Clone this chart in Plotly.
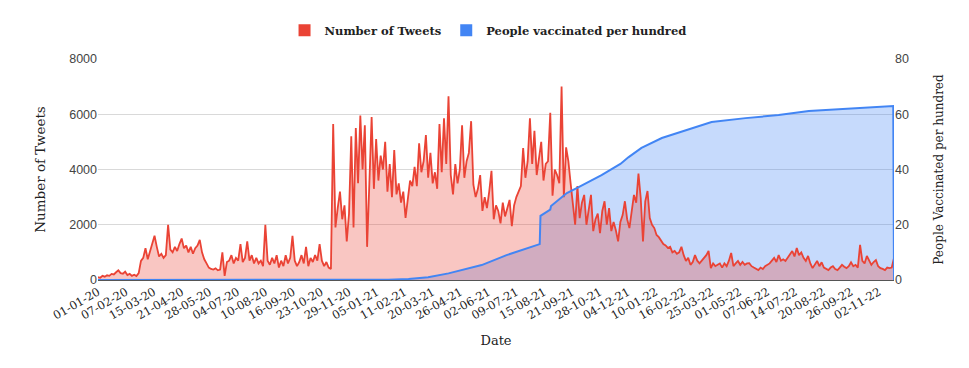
"""Tweets per day vs. people vaccinated per hundred (dual-axis area chart)."""

import pandas as pd
import plotly.graph_objects as go

# Number of tweets, one value every 3 days starting 01-01-2020
tweets = [
    100, 80, 150, 120, 170, 150, 220, 200, 280, 350, 250, 230, 300, 180, 220, 150, 190, 140, 250, 690,
    800, 1150, 750, 1050, 1300, 1600, 1200, 850, 950, 800, 900, 2000, 1100, 1000, 1200, 1050, 1300, 1500, 1150, 1250,
    1000, 1200, 950, 1150, 1250, 1450, 1000, 750, 600, 450, 400, 380, 420, 350, 380, 1000, 150, 650, 700, 900,
    600, 800, 700, 1300, 650, 800, 1400, 700, 900, 600, 800, 600, 700, 500, 2000, 700, 550, 800, 600, 900,
    450, 700, 500, 900, 600, 800, 1600, 700, 500, 650, 900, 600, 1200, 500, 800, 650, 900, 700, 1300, 700,
    500, 650, 450, 400, 5650, 1900, 2600, 3200, 2200, 2700, 1400, 2400, 5200, 1900, 5500, 3500, 5950, 4000, 5600, 1200,
    3500, 5900, 3300, 5100, 3600, 4500, 4000, 5000, 3200, 4200, 3000, 4700, 3100, 3500, 2800, 3200, 2250, 3000, 3600, 3400,
    4100, 3400, 4950, 3900, 4300, 5250, 3700, 4600, 3500, 3900, 3300, 5650, 3900, 5850, 4200, 6650, 3800, 3100, 4200, 3500,
    4000, 5600, 3700, 4300, 4600, 5750, 3450, 3000, 3300, 3800, 2500, 3000, 2600, 3200, 3950, 2200, 2700, 2500, 2050, 2800,
    2300, 2600, 2900, 1950, 2700, 3000, 3200, 3400, 4780, 3700, 4300, 5850, 4200, 5400, 3800, 4400, 5000, 3600, 4200, 4300,
    6050, 3050, 4000, 3800, 3500, 7000, 3000, 4800, 4300, 3500, 2800, 2000, 3400, 2240, 2800, 3080, 2000, 2600, 3080, 1770,
    2200, 2400, 1700, 2500, 2850, 2000, 2600, 1770, 2100, 1800, 1400, 2100, 2350, 2850, 2200, 1880, 2600, 3080, 2800, 3850,
    2970, 1400, 2850, 3220, 2240, 2000, 1880, 1630, 1550, 1400, 1300, 1250, 1160, 1200, 1000, 1050, 950, 1000, 1200, 900,
    690, 800, 550, 650, 900, 700, 600, 700, 800, 900, 1050, 430, 600, 500, 550, 600, 450, 600, 500, 700,
    980, 500, 600, 690, 550, 650, 550, 600, 610, 500, 450, 400, 360, 450, 400, 500, 550, 600, 700, 800,
    650, 900, 700, 750, 690, 800, 900, 1050, 850, 1160, 900, 1000, 800, 690, 870, 600, 430, 550, 690, 500,
    640, 450, 400, 360, 450, 500, 400, 360, 450, 550, 480, 430, 500, 640, 500, 550, 450, 1270, 690, 600,
    870, 700, 550, 650, 720, 500, 430, 400, 360, 450, 430, 450, 800,
]
tweet_dates = pd.date_range("2020-01-01", periods=len(tweets), freq="3D")

# People vaccinated per hundred
vacc_dates = [
    "2020-01-01", "2020-12-14", "2021-01-20", "2021-02-16", "2021-03-14", "2021-04-10", "2021-05-24",
    "2021-06-26", "2021-08-09", "2021-08-10", "2021-08-23", "2021-08-24", "2021-09-14", "2021-09-29",
    "2021-10-30", "2021-11-24", "2021-12-05", "2021-12-22", "2022-01-18", "2022-02-20", "2022-03-25",
    "2022-05-09", "2022-06-22", "2022-08-01", "2022-11-21", "2022-11-22",
]
vacc = [
    0, 0, 0.1, 0.4, 1.0, 2.4, 5.4,
    9.0, 13.0, 23.2, 25.5, 26.8, 31.5, 33.5,
    38.0, 42.0, 44.5, 47.8, 51.4, 54.3, 57.2,
    58.6, 59.7, 61.2, 63.0, 0,
]

tick_labels = [
    "01-01-20", "07-02-20", "15-03-20", "21-04-20", "28-05-20", "04-07-20", "10-08-20", "16-09-20",
    "23-10-20", "29-11-20", "05-01-21", "11-02-21", "20-03-21", "26-04-21", "02-06-21", "09-07-21",
    "15-08-21", "21-09-21", "28-10-21", "04-12-21", "10-01-22", "16-02-22", "25-03-22", "01-05-22",
    "07-06-22", "14-07-22", "20-08-22", "26-09-22", "02-11-22",
]
tick_vals = pd.to_datetime(tick_labels, format="%d-%m-%y")

RED = "#ea4335"
BLUE = "#4285f4"
SERIF = "DejaVu Serif"
SANS = "Liberation Sans"

fig = go.Figure()

# areas first (blue under red), lines on top
fig.add_trace(go.Scatter(x=pd.to_datetime(vacc_dates), y=vacc, yaxis="y", mode="lines",
                         line=dict(width=0, color=BLUE), fill="tozeroy",
                         fillcolor="rgba(66,133,244,0.3)", showlegend=False, hoverinfo="skip"))
fig.add_trace(go.Scatter(x=tweet_dates, y=tweets, yaxis="y2", mode="lines",
                         line=dict(width=0, color=RED), fill="tozeroy",
                         fillcolor="rgba(234,67,53,0.3)", showlegend=False, hoverinfo="skip"))
fig.add_trace(go.Scatter(x=tweet_dates, y=tweets, yaxis="y3", mode="lines",
                         line=dict(width=1.8, color=RED), showlegend=False,
                         hovertemplate="%{y}<extra></extra>"))
fig.add_trace(go.Scatter(x=pd.to_datetime(vacc_dates), y=vacc, yaxis="y4", mode="lines",
                         line=dict(width=2, color=BLUE), showlegend=False,
                         hovertemplate="%{y}<extra></extra>"))

# legend entries
fig.add_trace(go.Scatter(x=[None], y=[None], mode="markers", name="<b>Number of Tweets</b>",
                         marker=dict(symbol="square", size=12, color=RED)))
fig.add_trace(go.Scatter(x=[None], y=[None], mode="markers", name="<b>People vaccinated per hundred</b>",
                         marker=dict(symbol="square", size=12, color=BLUE)))

fig.update_layout(
    width=969,
    height=368,
    margin=dict(l=90, r=83, t=51, b=96, autoexpand=False),
    plot_bgcolor="white",
    paper_bgcolor="white",
    showlegend=True,
    legend=dict(orientation="h", x=0.49, xanchor="center", y=1.13, yanchor="middle",
                font=dict(family=SERIF, size=11.5, color="#222"), itemsizing="constant"),
    xaxis=dict(
        type="date",
        range=["2020-01-01", "2022-11-22"],
        tickvals=tick_vals,
        ticktext=tick_labels,
        tickangle=-30,
        tickfont=dict(family=SERIF, size=11.5, color="#222"),
        showgrid=False,
        showline=True,
        linecolor="#555",
        linewidth=1,
        ticks="",
        automargin=False,
        title=dict(text="Date", font=dict(family=SERIF, size=13, color="#222"), standoff=14),
    ),
    yaxis=dict(
        side="right",
        range=[0, 80],
        tickvals=[0, 20, 40, 60, 80],
        showgrid=True,
        gridcolor="#d9d9d9",
        zeroline=False,
        automargin=False,
        tickfont=dict(family=SANS, size=12.5, color="#444"),
        title=dict(text="People Vaccinated per hundred",
                   font=dict(family=SERIF, size=12, color="#222"), standoff=26),
    ),
    yaxis2=dict(
        overlaying="y",
        side="left",
        range=[0, 8000],
        tickvals=[0, 2000, 4000, 6000, 8000],
        showgrid=False,
        zeroline=False,
        automargin=False,
        tickfont=dict(family=SANS, size=12.5, color="#444"),
        title=dict(text="Number of Tweets", font=dict(family=SERIF, size=13.5, color="#222"), standoff=20),
    ),
    yaxis3=dict(overlaying="y", range=[0, 8000], visible=False),
    yaxis4=dict(overlaying="y", range=[0, 80], visible=False),
)

fig.write_html("out.html")
